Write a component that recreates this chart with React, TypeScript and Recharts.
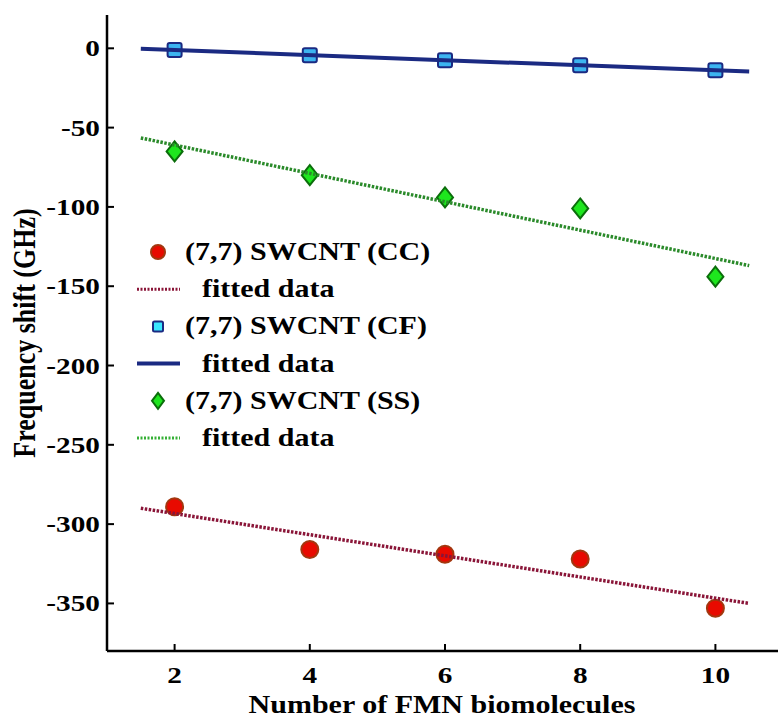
import { ComposedChart, Legend, Scatter, XAxis, YAxis } from 'recharts'

const xTicks = [2, 4, 6, 8, 10]
const yTicks = [0, -50, -100, -150, -200, -250, -300, -350]

const molecules = [2, 4, 6, 8, 10]
const ccShift = [-289, -316, -319, -322, -353]
const cfShift = [-1, -4.4, -7.5, -10.7, -13.8]
const ssShift = [-65, -80, -94, -101, -144]

const fitX = [1.5, 10.5]
const ccFit = [-290, -350]
const cfFit = [-0.3, -14.7]
const ssFit = [-56.5, -137]

const legendLabels = [
   '(7,7) SWCNT (CC)',
   'fitted data',
   '(7,7) SWCNT (CF)',
   'fitted data',
   '(7,7) SWCNT (SS)',
   'fitted data',
]

const FONT = '"Liberation Serif", "Times New Roman", serif'
const STRETCH = 1.22

const pts = (xs: number[], ys: number[]) => xs.map((x, i) => ({ x, y: ys[i] }))

const RED = '#e80a00'
const RED_EDGE = '#a3370f'
const CYAN = '#3cb4f0'
const NAVY = '#1b2a82'
const GREEN = '#1ee61e'
const GREEN_EDGE = '#0b6e0b'
const MAROON = '#8a1538'
const DKGREEN = '#2a8a2a'

const Circle = (p: any) => (
   <circle cx={p.cx} cy={p.cy} r={8.5} fill={RED} stroke={RED_EDGE} strokeWidth={2} />
)
const Square = (p: any) => (
   <rect x={p.cx - 7} y={p.cy - 7} width={14} height={14} rx={2} fill={CYAN} stroke={NAVY} strokeWidth={2} />
)
const Diamond = (p: any) => (
   <polygon
      points={`${p.cx},${p.cy - 10} ${p.cx + 8},${p.cy} ${p.cx},${p.cy + 10} ${p.cx - 8},${p.cy}`}
      fill={GREEN}
      stroke={GREEN_EDGE}
      strokeWidth={2}
   />
)
const NoMark = () => <g />

const label = (x: number, y: number, text: string | number, anchor: string) => (
   <text
      transform={`translate(${x},${y}) scale(${STRETCH},1)`}
      textAnchor={anchor}
      fontFamily={FONT}
      fontWeight="bold"
      fontSize={24}
      fill="#000"
   >
      {text}
   </text>
)

const BottomTick = ({ x, y, payload }: any) => (
   <g>
      <line x1={x} x2={x} y1={y} y2={y - 7} stroke="#000" strokeWidth={2} />
      {label(x, y + 32, payload.value, 'middle')}
   </g>
)
const TopTick = ({ x, y }: any) => <line x1={x} x2={x} y1={y} y2={y + 7} stroke="#000" strokeWidth={2} />
const LeftTick = ({ x, y, payload }: any) => (
   <g>
      <line x1={x} x2={x + 7} y1={y} y2={y} stroke="#000" strokeWidth={2} />
      {label(x - 7, y + 8, payload.value, 'end')}
   </g>
)
const RightTick = ({ x, y }: any) => <line x1={x} x2={x - 7} y1={y} y2={y} stroke="#000" strokeWidth={2} />

const XTitle = ({ viewBox }: any) => (
   <text
      transform={`translate(${viewBox.x + viewBox.width / 2 - 3},${viewBox.y + 62}) scale(1.2,1)`}
      textAnchor="middle"
      fontFamily={FONT}
      fontWeight="bold"
      fontSize={25}
   >
      Number of FMN biomolecules
   </text>
)
const YTitle = ({ viewBox }: any) => (
   <text
      transform={`translate(24,${viewBox.y + viewBox.height / 2}) rotate(-90) scale(1,1.2)`}
      textAnchor="middle"
      dy="0.35em"
      fontFamily={FONT}
      fontWeight="bold"
      fontSize={26}
   >
      Frequency shift (GHz)
   </text>
)

const legendMarks = ['circle', 'dotMaroon', 'square', 'solid', 'diamond', 'dotGreen']

const LegendBox = () => (
   <svg width={330} height={230}>
      {legendLabels.map((text, i) => {
         const cy = 20 + i * 37.2
         const kind = legendMarks[i]
         let mark = null
         if (kind === 'circle') mark = <circle cx={28} cy={cy} r={7} fill={RED} stroke={RED_EDGE} strokeWidth={2} />
         if (kind === 'square')
            mark = <rect x={23} y={cy - 5} width={10} height={10} rx={1.5} fill="#3ae6ff" stroke={NAVY} strokeWidth={2} />
         if (kind === 'diamond')
            mark = (
               <polygon
                  points={`28,${cy - 8} 34,${cy} 28,${cy + 8} 22,${cy}`}
                  fill={GREEN}
                  stroke={GREEN_EDGE}
                  strokeWidth={2}
               />
            )
         if (kind === 'dotMaroon')
            mark = <line x1={7} x2={50} y1={cy} y2={cy} stroke={MAROON} strokeWidth={3} strokeDasharray="2 1.5" />
         if (kind === 'solid') mark = <line x1={7} x2={50} y1={cy} y2={cy} stroke={NAVY} strokeWidth={4} />
         if (kind === 'dotGreen')
            mark = <line x1={7} x2={50} y1={cy} y2={cy} stroke="#35b035" strokeWidth={3} strokeDasharray="2 1.5" />
         const tx = i % 2 === 0 ? 55 : 72
         return (
            <g key={i}>
               {mark}
               <text
                  transform={`translate(${tx},${cy + 8}) scale(1.2,1)`}
                  fontFamily={FONT}
                  fontWeight="bold"
                  fontSize={25}
               >
                  {text}
               </text>
            </g>
         )
      })}
   </svg>
)

const axisLine = { stroke: '#000', strokeWidth: 2.5 }

export default function App() {
   return (
      <div
         style={{ position: 'fixed', left: 0, top: 0, width: 778, height: 719, overflow: 'hidden', background: '#fff' }}
      >
         <ComposedChart width={790} height={719} margin={{ top: 15, right: 7, bottom: 0, left: 0 }}>
            <XAxis
               dataKey="x"
               type="number"
               domain={[1, 11]}
               ticks={xTicks}
               height={68}
               tickSize={0}
               tickMargin={0}
               tickLine={false}
               axisLine={axisLine}
               tick={<BottomTick />}
               label={{ content: XTitle }}
            />
            <XAxis
               xAxisId="top"
               orientation="top"
               type="number"
               domain={[1, 11]}
               ticks={xTicks}
               height={0}
               tickSize={0}
               tickMargin={0}
               tickLine={false}
               axisLine={axisLine}
               tick={<TopTick />}
            />
            <YAxis
               type="number"
               domain={[-380, 21]}
               ticks={yTicks}
               width={107}
               tickSize={0}
               tickMargin={0}
               tickLine={false}
               axisLine={axisLine}
               tick={<LeftTick />}
               label={{ content: YTitle }}
            />
            <YAxis
               yAxisId="right"
               orientation="right"
               type="number"
               domain={[-380, 21]}
               ticks={yTicks}
               width={0}
               tickSize={0}
               tickMargin={0}
               tickLine={false}
               axisLine={axisLine}
               tick={<RightTick />}
            />
            <Legend
               layout="horizontal"
               verticalAlign="middle"
               align="center"
               content={<LegendBox />}
               wrapperStyle={{ position: 'absolute', left: 130, top: 232, width: 330, height: 230 }}
            />
            <Scatter data={pts(molecules, ccShift)} dataKey="y" shape={Circle} isAnimationActive={false} />
            <Scatter
               data={pts(fitX, ccFit)}
               dataKey="y"
               shape={NoMark}
               line={{ stroke: MAROON, strokeWidth: 3.5, strokeDasharray: '2.5 1.5' }}
               isAnimationActive={false}
            />
            <Scatter data={pts(molecules, cfShift)} dataKey="y" shape={Square} isAnimationActive={false} />
            <Scatter
               data={pts(fitX, cfFit)}
               dataKey="y"
               shape={NoMark}
               line={{ stroke: NAVY, strokeWidth: 4 }}
               isAnimationActive={false}
            />
            <Scatter data={pts(molecules, ssShift)} dataKey="y" shape={Diamond} isAnimationActive={false} />
            <Scatter
               data={pts(fitX, ssFit)}
               dataKey="y"
               shape={NoMark}
               line={{ stroke: DKGREEN, strokeWidth: 3.5, strokeDasharray: '2.5 1.5' }}
               isAnimationActive={false}
            />
         </ComposedChart>
      </div>
   )
}
